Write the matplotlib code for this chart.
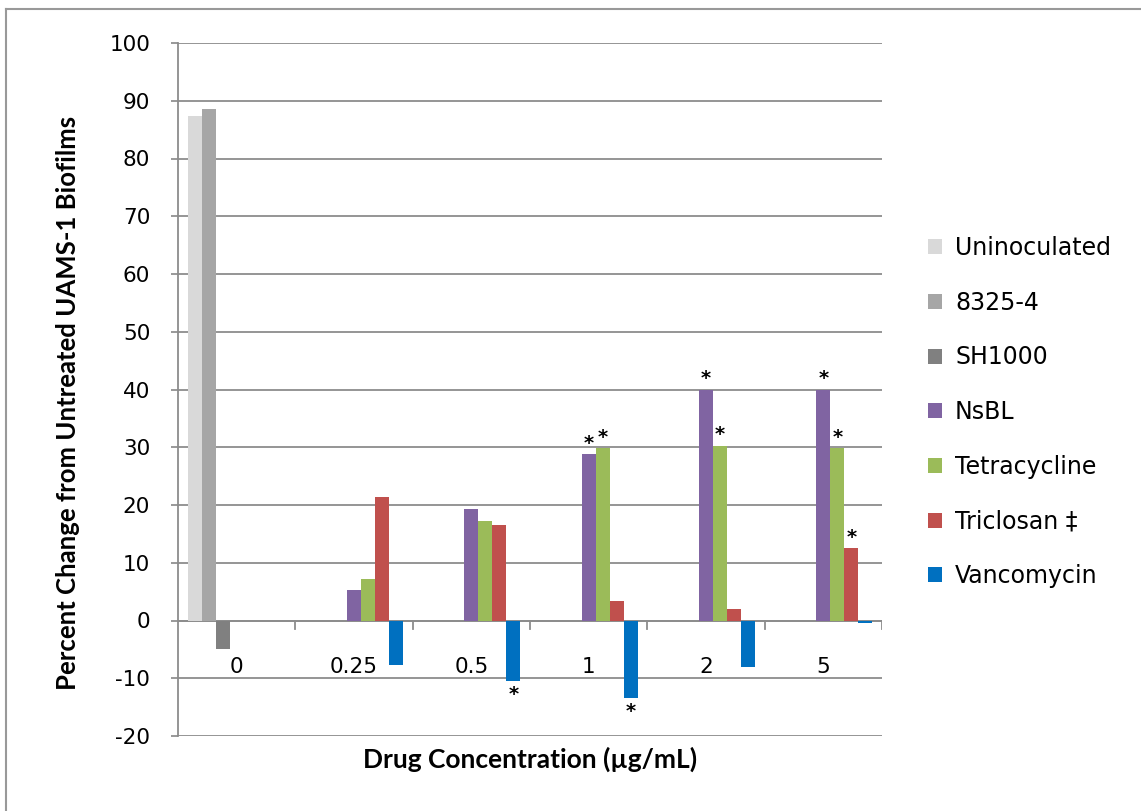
import numpy as np
import matplotlib.pyplot as plt
from matplotlib.lines import Line2D

plt.rcParams['axes.unicode_minus'] = False

# Data
concentrations = ['0', '0.25', '0.5', '1', '2', '5']
series_names = ['Uninoculated', '8325-4', 'SH1000', 'NsBL', 'Tetracycline', 'Triclosan \u2021', 'Vancomycin']
uninoculated = [87.3, 0, 0, 0, 0, 0]
strain_8325 = [88.5, 0, 0, 0, 0, 0]
sh1000 = [-5.0, 0, 0, 0, 0, 0]
nsbl = [0, 5.2, 19.3, 28.8, 40.0, 40.0]
tetracycline = [0, 7.2, 17.3, 29.8, 30.3, 29.8]
triclosan = [0, 21.3, 16.6, 3.3, 2.0, 12.6]
vancomycin = [0, -7.7, -10.5, -13.5, -8.0, -0.5]

# significance stars: (series index, category index)
stars = [(6, 2), (3, 3), (4, 3), (6, 3), (3, 4), (4, 4), (3, 5), (4, 5), (5, 5)]

colors = ['#D9D9D9', '#A6A6A6', '#808080', '#8064A2', '#9BBB59', '#C0504D', '#0070C0']
all_series = [uninoculated, strain_8325, sh1000, nsbl, tetracycline, triclosan, vancomycin]

fig = plt.figure(figsize=(11.41, 8.11), dpi=100)
ax = fig.add_axes([178/1141, 75/811, 704/1141, 693/811])

n_cat = len(concentrations)
n_ser = len(all_series)
width = 0.835 / n_ser
x = np.arange(n_cat)

for i, vals in enumerate(all_series):
    offs = x - 0.835 / 2 + width * (i + 0.5)
    ax.bar(offs, vals, width=width, color=colors[i], label=series_names[i], zorder=3)

for si, ci in stars:
    v = all_series[si][ci]
    xp = ci - 0.835 / 2 + width * (si + 0.5)
    if v >= 0:
        ax.text(xp, v + 0.2, '*', ha='center', va='bottom', fontsize=14, fontweight='bold', zorder=4)
    else:
        ax.text(xp, v - 0.6, '*', ha='center', va='top', fontsize=14, fontweight='bold', zorder=4)

ax.set_xlim(-0.5, n_cat - 0.5)
ax.set_ylim(-20, 100)
ax.set_yticks(np.arange(-20, 101, 10))
ax.tick_params(axis='y', labelsize=15.5, length=5, color='#888888', width=1.2, pad=15, labelcolor='#000000')
ax.grid(axis='y', color='#8c8c8c', linewidth=1.3, zorder=0)

# x axis at zero with category ticks
ax.set_xticks([])
ax.axhline(0, color='#8c8c8c', linewidth=1.3, zorder=2)
for b in np.arange(0.5, n_cat, 1.0):
    ax.plot([b, b], [0, -1.4], color='#8c8c8c', linewidth=1.3, zorder=2)
for i, lab in enumerate(concentrations):
    ax.text(i, -8.0, lab, ha='center', va='center', fontsize=15.5)

for s in ['top', 'right', 'bottom']:
    ax.spines[s].set_visible(False)
ax.spines['left'].set_color('#8c8c8c')
ax.spines['left'].set_linewidth(1.3)

ax.set_ylabel('Percent Change from Untreated UAMS-1 Biofilms', fontsize=18.5, fontweight='bold',
              family='Lato', labelpad=12)
ax.yaxis.set_label_coords(-0.139, 0.48)
ax.set_xlabel('Drug Concentration (\u00b5g/mL)', fontsize=19, fontweight='bold', family='Lato', labelpad=8)

leg = ax.legend(loc='center left', bbox_to_anchor=(1.035, 0.4675), frameon=False, fontsize=17,
                handlelength=0.6, handleheight=0.6, labelspacing=1.3, handletextpad=0.55)

# outer border (top and left)
fig.add_artist(Line2D([6/1141, 1], [1 - 9/811, 1 - 9/811], color='#999999', linewidth=1.5, transform=fig.transFigure))
fig.add_artist(Line2D([6/1141, 6/1141], [0, 1 - 9/811], color='#999999', linewidth=1.5, transform=fig.transFigure))

fig.savefig('out.png', dpi=100)
